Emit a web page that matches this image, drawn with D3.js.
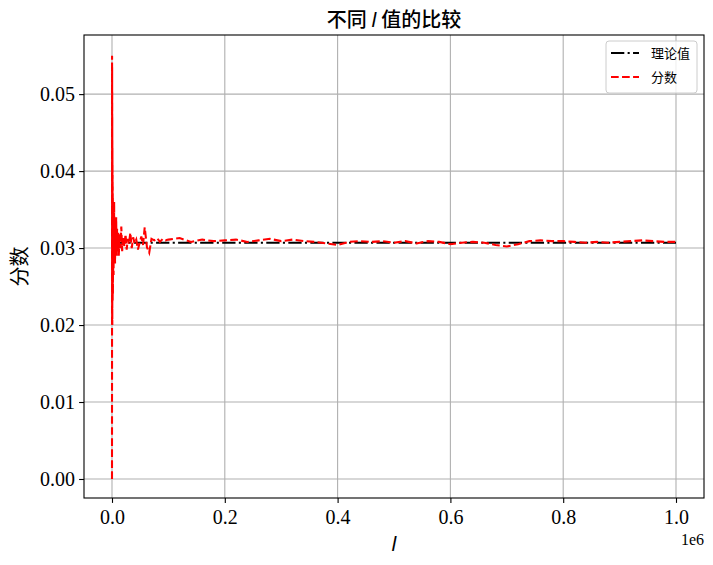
<!DOCTYPE html>
<html>
<head>
<meta charset="utf-8">
<script src="https://cdn.jsdelivr.net/npm/d3@7"></script>
<style>
  body { margin: 0; background: #fff; }
  .tick text { font-family: "Liberation Serif", serif; font-size: 20px; fill: #000; }
  .cjk { font-family: "Noto Sans CJK SC", sans-serif; }
</style>
</head>
<body>
<div id="chart"></div>
<script>
// sample positions (l) and measured fractions
var lEarly = [0, 60, 120, 180, 240, 300, 360, 420, 480, 540, 600, 680, 760, 840, 920, 1000,
  1100, 1200, 1300, 1400, 1500, 1650, 1800, 2000, 2200, 2400, 2600, 2800, 3000,
  3400, 3800, 4300, 4800, 5400, 6000, 6700, 7400, 8200, 9000, 10000, 11000, 12000, 13500,
  15000, 16500, 18000, 20000, 22000, 24000, 26000, 28000, 30000, 32500, 35000, 37500, 40000,
  43000, 46000, 49000, 52000, 55000, 58000, 62000, 66000, 70000, 75000, 80000, 85000, 90000, 95000];
var fracEarly = [0, 0.0160, 0.0550, 0.0240, 0.0535, 0.0210, 0.0505, 0.0260, 0.0470, 0.0200,
  0.0440, 0.0235, 0.0430, 0.0250, 0.0410, 0.0270, 0.0395, 0.0230, 0.0380, 0.0260, 0.0365,
  0.0240, 0.0360, 0.0270, 0.0355, 0.0275, 0.0345, 0.0265, 0.0340,
  0.0285, 0.0360, 0.0290, 0.0335, 0.0280, 0.0330,
  0.0295, 0.0340, 0.0290, 0.0325, 0.0298, 0.0320, 0.0290, 0.0318, 0.0300, 0.0328, 0.0296,
  0.0315, 0.0302, 0.0318, 0.0298, 0.0312, 0.0305, 0.0320, 0.0300, 0.0314, 0.0306, 0.0311,
  0.0298, 0.0307, 0.0315, 0.0304, 0.0327, 0.0301, 0.0294, 0.0312, 0.0310, 0.0313, 0.0308,
  0.0312, 0.0310];
var lLate = [100000, 120000, 140000, 160000, 180000, 200000, 220000, 240000, 260000, 280000,
  300000, 320000, 340000, 360000, 380000, 400000, 420000, 440000, 460000, 480000, 500000,
  520000, 540000, 560000, 580000, 600000, 620000, 640000, 660000, 680000, 700000, 720000,
  740000, 760000, 780000, 800000, 820000, 840000, 860000, 880000, 900000, 920000, 940000,
  960000, 980000, 1000000];
var fracLate = [0.0311, 0.0313, 0.0308, 0.0311, 0.0309, 0.0310, 0.0311, 0.0308, 0.0310, 0.0312,
  0.0309, 0.0311, 0.0309, 0.0308, 0.0306, 0.0304, 0.0308, 0.0309, 0.0308, 0.0309, 0.0307,
  0.0309, 0.0306, 0.0309, 0.0308, 0.0305, 0.0307, 0.0308, 0.0307, 0.0304, 0.0302, 0.0305,
  0.0309, 0.0310, 0.0309, 0.0309, 0.0308, 0.0307, 0.0308, 0.0307, 0.0308, 0.0309, 0.0310,
  0.0309, 0.0308, 0.0308];
var theoryL = [0, 1000000];
var theoryVal = [0.0307, 0.0307];
var xTicks = [0, 200000, 400000, 600000, 800000, 1000000];
var yTicks = [0, 0.01, 0.02, 0.03, 0.04, 0.05];
var legendLabels = ["理论值", "分数"];

var W = 713, H = 565;
var margin = {top: 35, right: 9, bottom: 67, left: 84};
var width = W - margin.left - margin.right;
var height = H - margin.top - margin.bottom;

var x = d3.scaleLinear().domain([-49645, 1049645]).range([0, width]);
var y = d3.scaleLinear().domain([-0.00247, 0.05768]).range([height, 0]);

var svg = d3.select("#chart").append("svg")
  .attr("width", W).attr("height", H);

var g = svg.append("g")
  .attr("transform", "translate(" + margin.left + "," + margin.top + ")");

g.append("defs").append("clipPath").attr("id", "clip")
  .append("rect").attr("width", width).attr("height", height);

// grid
g.append("g").selectAll("line").data(xTicks).join("line")
  .attr("x1", d => x(d)).attr("x2", d => x(d))
  .attr("y1", 0).attr("y2", height)
  .attr("stroke", "#b0b0b0").attr("stroke-width", 1.1);
g.append("g").selectAll("line").data(yTicks).join("line")
  .attr("x1", 0).attr("x2", width)
  .attr("y1", d => y(d)).attr("y2", d => y(d))
  .attr("stroke", "#b0b0b0").attr("stroke-width", 1.1);

var line = d3.line().x(d => x(d[0])).y(d => y(d[1]));
var theory = theoryL.map((d, i) => [d, theoryVal[i]]);
var frac = lEarly.map((d, i) => [d, fracEarly[i]])
  .concat(lLate.map((d, i) => [d, fracLate[i]]));

var dashDot = "13.3,3.33,2.08,3.33", dashed = "7.7,3.33";

var lines = g.append("g").attr("clip-path", "url(#clip)");
lines.append("path").datum(theory)
  .attr("d", line).attr("fill", "none")
  .attr("stroke", "#000").attr("stroke-width", 2.08)
  .attr("stroke-dasharray", dashDot);
lines.append("path").datum(frac)
  .attr("d", line).attr("fill", "none")
  .attr("stroke", "red").attr("stroke-width", 2.08)
  .attr("stroke-dasharray", dashed);

// axes
var xAxis = g.append("g").attr("transform", "translate(0," + height + ")")
  .call(d3.axisBottom(x).tickValues(xTicks).tickSize(4.9).tickPadding(4)
    .tickFormat(d => d3.format(".1f")(d / 1e6)));
var yAxis = g.append("g")
  .call(d3.axisLeft(y).tickValues(yTicks).tickSize(4.9).tickPadding(4)
    .tickFormat(d3.format(".2f")));
[xAxis, yAxis].forEach(a => {
  a.select(".domain").remove();
  a.selectAll(".tick line").attr("stroke", "#000").attr("stroke-width", 1.1);
});
xAxis.selectAll(".tick text").attr("dy", "0.85em");

g.append("rect").attr("width", width).attr("height", height)
  .attr("fill", "none").attr("stroke", "#000").attr("stroke-width", 1.1);

// offset text
svg.append("text").attr("x", 704).attr("y", 545).attr("text-anchor", "end")
  .style("font-family", "Liberation Serif, serif").style("font-size", "16px").text("1e6");

// labels
svg.append("text").attr("x", margin.left + width / 2).attr("y", 551)
  .attr("text-anchor", "middle")
  .style("font-family", "DejaVu Sans, sans-serif").style("font-style", "italic")
  .style("font-size", "20px").text("l");

svg.append("text").attr("transform", "translate(27," + (margin.top + height / 2) + ") rotate(-90)")
  .attr("text-anchor", "middle").attr("class", "cjk")
  .style("font-size", "20px").text("分数");

var title = svg.append("text").attr("x", margin.left + width / 2).attr("y", 27)
  .attr("text-anchor", "middle").attr("class", "cjk")
  .style("font-size", "20px").style("font-weight", "500");
title.append("tspan").text("不同 ");
title.append("tspan").style("font-family", "DejaVu Sans, sans-serif")
  .style("font-style", "italic").text("l");
title.append("tspan").text(" 值的比较");

// legend
var lg = svg.append("g").attr("transform", "translate(606,41)");
lg.append("rect").attr("width", 91).attr("height", 52).attr("rx", 3)
  .attr("fill", "#fff").attr("fill-opacity", 0.8)
  .attr("stroke", "#cccccc").attr("stroke-width", 1);
var styles = [{c: "#000", dash: dashDot}, {c: "red", dash: dashed}];
legendLabels.forEach((lab, i) => {
  var yy = 12 + i * 24;
  lg.append("line").attr("x1", 5).attr("x2", 33).attr("y1", yy).attr("y2", yy)
    .attr("stroke", styles[i].c).attr("stroke-width", 2.08)
    .attr("stroke-dasharray", styles[i].dash);
  lg.append("text").attr("x", 45).attr("y", yy).attr("dy", "0.35em")
    .attr("class", "cjk").style("font-size", "13px").text(lab);
});
</script>
</body>
</html>
